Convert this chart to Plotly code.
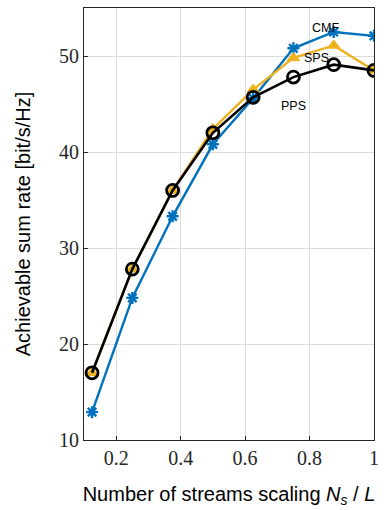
import plotly.graph_objects as go

x = [0.125, 0.25, 0.375, 0.5, 0.625, 0.75, 0.875, 1.0]
cmf = [12.9, 24.8, 33.3, 40.8, 45.6, 50.8, 52.5, 52.1]
sps = [17.0, 27.8, 36.0, 42.4, 46.5, 49.8, 51.1, 48.5]
pps = [17.0, 27.8, 36.0, 42.0, 45.7, 47.8, 49.1, 48.5]
xticks = [0.2, 0.4, 0.6, 0.8, 1.0]
xticklabels = ["0.2", "0.4", "0.6", "0.8", "1"]
yticks = [10, 20, 30, 40, 50]

fig = go.Figure()
fig.add_trace(go.Scatter(x=x, y=cmf, mode="lines+markers", name="CMF",
                         line=dict(color="#0072BD", width=2.4),
                         marker=dict(symbol="asterisk-open", size=10,
                                     line=dict(color="#0072BD", width=2.4))))
fig.add_trace(go.Scatter(x=x, y=sps, mode="lines+markers", name="SPS",
                         line=dict(color="#EDB120", width=2.4),
                         marker=dict(symbol="triangle-up", size=11, color="#EDB120",
                                     line=dict(color="#EDB120", width=1))))
fig.add_trace(go.Scatter(x=x, y=pps, mode="lines+markers", name="PPS",
                         line=dict(color="black", width=2.6),
                         marker=dict(symbol="circle-open", size=12,
                                     line=dict(color="black", width=2.8))))

labels = [("CMF", 0.85, 52.9), ("SPS", 0.822, 49.8), ("PPS", 0.75, 44.8)]
for t, lx, ly in labels:
    fig.add_annotation(x=lx, y=ly, text=t, showarrow=False,
                       font=dict(family="Liberation Sans, Arial", size=12.5, color="black"))

fig.update_xaxes(range=[0.1, 1.0], tickvals=xticks, ticktext=xticklabels,
                 showgrid=True, gridcolor="#dcdcdc", gridwidth=1,
                 showline=True, linecolor="#262626", linewidth=1.2, mirror=True,
                 ticks="inside", ticklen=4, tickcolor="#262626", zeroline=False,
                 tickfont=dict(family="Liberation Serif, Times New Roman", size=20, color="#262626"),
                 title=dict(text="Number of streams scaling <i>N<sub>s</sub></i> / <i>L</i>",
                            font=dict(family="Liberation Sans, Arial", size=20, color="black"),
                            standoff=18))
fig.update_yaxes(range=[10, 55], tickvals=yticks,
                 showgrid=True, gridcolor="#dcdcdc", gridwidth=1,
                 showline=True, linecolor="#262626", linewidth=1.2, mirror=True,
                 ticks="inside", ticklen=4, tickcolor="#262626", zeroline=False,
                 tickfont=dict(family="Liberation Serif, Times New Roman", size=20, color="#262626"),
                 title=dict(text="Achievable sum rate [bit/s/Hz]",
                            font=dict(family="Liberation Sans, Arial", size=20, color="black"),
                            standoff=22))
fig.update_layout(width=387, height=510, showlegend=False,
                  margin=dict(l=84, r=13, t=8, b=70),
                  plot_bgcolor="white", paper_bgcolor="white")
fig.write_html("out.html")
